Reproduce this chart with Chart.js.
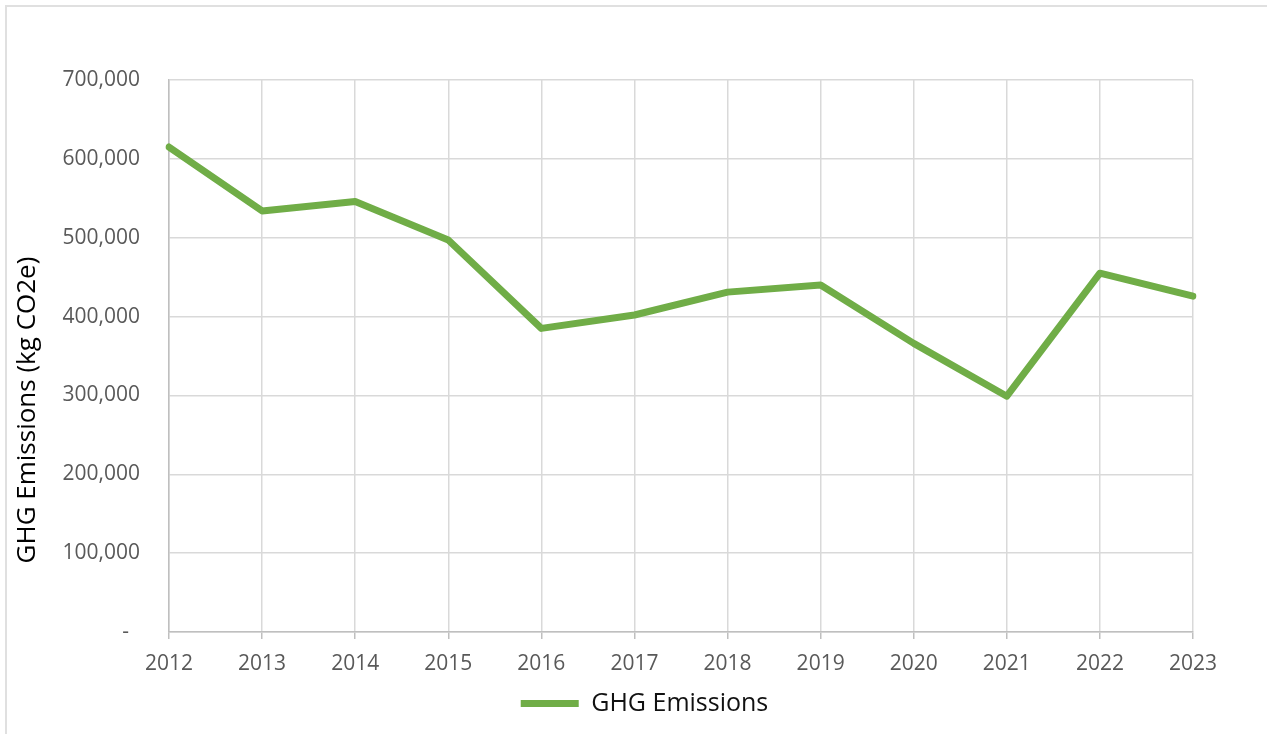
<!DOCTYPE html>
<html lang="en">
<head>
  <meta charset="UTF-8">
  <title>GHG Emissions</title>
  <script src="https://cdn.jsdelivr.net/npm/chart.js"></script>
  <style>
    body {
      margin: 0;
      width: 1267px;
      height: 734px;
      overflow: hidden;
      background: #fff;
    }
    .frame {
      position: absolute;
      left: 5px;
      top: 5px;
      width: 1300px;
      height: 800px;
      border-left: 2px solid #e0e0e0;
      border-top: 2px solid #e0e0e0;
    }
    .chart-div {
      position: absolute;
      left: 0;
      top: 0;
      width: 1267px;
      height: 734px;
    }
  </style>
</head>
<body>
<div class="frame"></div>
<div class="chart-div">
  <canvas id="myChart"></canvas>
</div>
<script>
  const years = ['2012', '2013', '2014', '2015', '2016', '2017', '2018', '2019', '2020', '2021', '2022', '2023'];
  const emissions = [615000, 534000, 546000, 497000, 385000, 402000, 431000, 440000, 366000, 299000, 455000, 426000];
  const yMin = 0;
  const yMax = 700000;
  const yStep = 100000;

  const ctx = document.getElementById('myChart').getContext('2d');
  const fontName = "'Open Sans', 'Liberation Sans', sans-serif";
  const legendShift = 44; // legend sits a bit right of the centre in the original

  const myChart = new Chart(ctx, {
    type: 'line',
    data: {
      labels: years,
      datasets: [{
        label: 'GHG Emissions',
        data: emissions,
        borderColor: '#70ad47',
        backgroundColor: '#70ad47',
        borderWidth: 7,
        borderCapStyle: 'round',
        borderJoinStyle: 'round',
        pointRadius: 0,
        tension: 0,
        fill: false
      }]
    },
    options: {
      responsive: true,
      maintainAspectRatio: false,
      animation: false,
      layout: {
        padding: { top: 80, right: 74, bottom: 8, left: 8 }
      },
      plugins: {
        tooltip: { enabled: false },
        legend: {
          position: 'bottom',
          labels: {
            usePointStyle: true,
            pointStyle: 'line',
            pointStyleWidth: 58,
            color: '#111',
            padding: 10,
            font: { family: fontName, size: 25 }
          }
        }
      },
      scales: {
        x: {
          grid: {
            color: '#d9d9d9',
            lineWidth: 1.5,
            tickColor: '#bfbfbf',
            tickLength: 7,
            drawTicks: true
          },
          border: { color: '#bfbfbf', width: 1.5 },
          ticks: {
            color: '#595959',
            padding: 12,
            maxRotation: 0,
            font: { family: fontName, size: 21 }
          },
          afterFit: function (scale) {
            scale.height = 49;
          }
        },
        y: {
          min: yMin,
          max: yMax,
          grid: {
            color: '#d9d9d9',
            lineWidth: 1.5,
            drawTicks: false
          },
          border: { color: '#bfbfbf', width: 1.5 },
          ticks: {
            stepSize: yStep,
            color: '#595959',
            padding: 29,
            font: { family: fontName, size: 21 },
            callback: function (value) {
              return value === 0 ? '-  ' : value.toLocaleString('en-US');
            }
          },
          title: {
            display: true,
            // trailing spaces push the title down, as in the original
            text: 'GHG Emissions (kg CO2e)' + ' '.repeat(16),
            color: '#000',
            padding: { top: 4, bottom: 0 },
            font: { family: fontName, size: 26 }
          },
          afterFit: function (scale) {
            scale.width = 161;
          }
        }
      }
    },
    plugins: [{
      id: 'legendShift',
      afterLayout: function (chart) {
        chart.legend.left += legendShift;
        chart.legend.right += legendShift;
      }
    }]
  });
</script>
</body>
</html>
